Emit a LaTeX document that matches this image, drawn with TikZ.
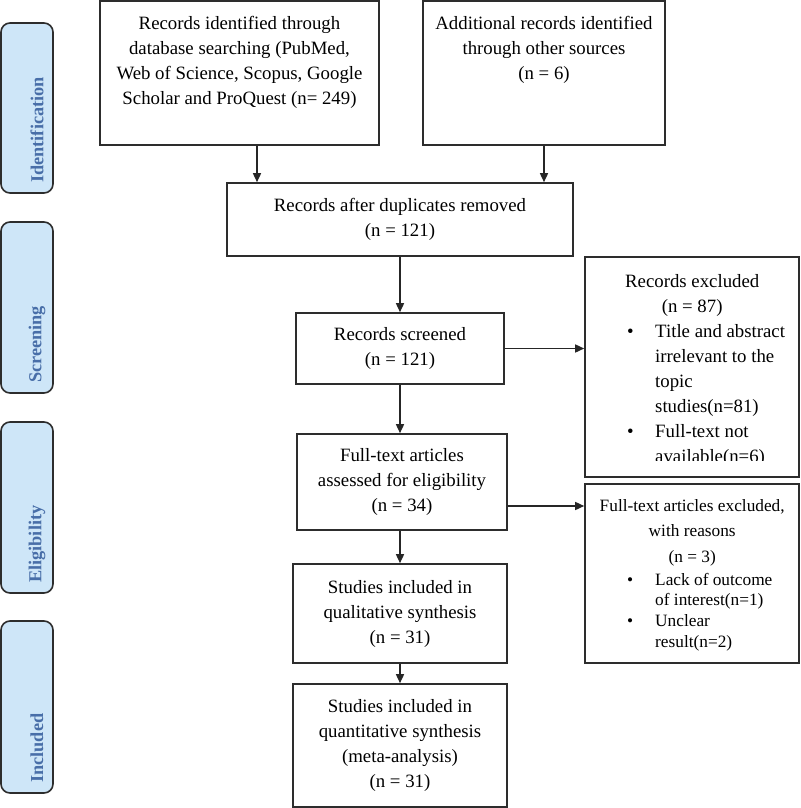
\documentclass[tikz,border=0pt]{standalone}
\usepackage{fontspec}
\setmainfont{Liberation Serif}
\usetikzlibrary{arrows.meta}
\definecolor{phasefill}{RGB}{206,230,248}
\definecolor{phasetext}{RGB}{72,110,168}
\definecolor{linegray}{RGB}{45,45,45}
\tikzset{
  mainbox/.style={draw=linegray, line width=1.6pt, inner sep=0pt, align=center,
    font=\fontsize{18.8}{25}\selectfont},
  plainbox/.style={draw=linegray, line width=1.6pt, inner sep=0pt},
  boxtext/.style={inner sep=0pt, anchor=base west},
  phasebox/.style={draw=linegray, line width=1.6pt, rounded corners=9pt, fill=phasefill,
    minimum width=52pt, inner sep=0pt},
  phaselabel/.style={rotate=90, anchor=west, inner sep=0pt, text=phasetext,
    font=\fontsize{18.3}{22}\selectfont\bfseries},
  arr/.style={draw=black!85, line width=1.5pt, -{Triangle[length=9pt,width=8pt]}},
}
\begin{document}
\begin{tikzpicture}[x=1pt,y=-1pt]
\useasboundingbox (0,0) rectangle (800,808);

% phase labels
\node[phasebox, minimum height=170pt] (ph1) at (27,108) {};
\node[phaselabel] (ph1t) at (37,183) {Identification};
\node[phasebox, minimum height=171pt] (ph2) at (27,307.5) {};
\node[phaselabel] (ph2t) at (37,383) {Screening};
\node[phasebox, minimum height=171pt] (ph3) at (27,507.5) {};
\node[phaselabel] (ph3t) at (37,583) {Eligibility};
\node[phasebox, minimum height=172pt] (ph4) at (27,707) {};
\node[phaselabel] (ph4t) at (37,783) {Included};

% main boxes
\node[mainbox, minimum width=279pt, minimum height=144pt] (id1) at (239.5,73)
  {\parbox[c][144pt][t]{279pt}{\centering\vspace*{15.7pt}Records identified through\\
   database searching (PubMed,\\ Web of Science, Scopus, Google\\
   Scholar and ProQuest (n= 249)}};
\node[mainbox, minimum width=242pt, minimum height=144pt] (id2) at (544,73)
  {\parbox[c][144pt][t]{242pt}{\centering\vspace*{15.7pt}Additional records identified\\
   through other sources\\ (n = 6)}};
\node[mainbox, minimum width=346pt, minimum height=73pt] (dup) at (400,219.5)
  {Records after duplicates removed\\ (n = 121)};
\node[mainbox, minimum width=208pt, minimum height=71pt] (scr) at (400,348.5)
  {Records screened\\ (n = 121)};
\node[mainbox, minimum width=210pt, minimum height=96pt] (ft) at (402,482)
  {Full-text articles\\ assessed for eligibility\\ (n = 34)};
\node[mainbox, minimum width=214pt, minimum height=99pt] (qual) at (400,613.5)
  {Studies included in\\ qualitative synthesis\\ (n = 31)};
\node[mainbox, minimum width=214pt, minimum height=123pt] (quant) at (400,745.5)
  {Studies included in\\ quantitative synthesis\\ (meta-analysis)\\ (n = 31)};

% exclusion boxes
\node[plainbox, minimum width=214pt, minimum height=220pt] (excl1) at (692,367) {};
\begin{scope}
  \clip (585,257) rectangle (799,460);
  \node[boxtext, font=\fontsize{18.8}{25}\selectfont] (excl1t) at (585,287)
   {\parbox[t]{214pt}{\centering Records excluded\\ (n = 87)\par
    \raggedright
    \hspace*{42pt}\makebox[28pt][l]{\textbullet}Title and abstract\\
    \hspace*{70pt}irrelevant to the\\
    \hspace*{70pt}topic\\
    \hspace*{70pt}studies(n=81)\\
    \hspace*{42pt}\makebox[28pt][l]{\textbullet}Full-text not\\
    \hspace*{70pt}available(n=6)}};
\end{scope}

\node[plainbox, minimum width=214pt, minimum height=179pt] (excl2) at (692,573.5) {};
\node[boxtext, font=\fontsize{17.3}{25.5}\selectfont] (excl2t) at (585,511)
  {\parbox[t]{214pt}{\centering Full-text articles excluded,\\ with reasons\\ (n = 3)\par
   \fontsize{17.3}{20.7}\selectfont\raggedright\vspace{2.5pt}
   \hspace*{42pt}\makebox[28pt][l]{\textbullet}Lack of outcome\\
   \hspace*{70pt}of interest(n=1)\\
   \hspace*{42pt}\makebox[28pt][l]{\textbullet}Unclear\\
   \hspace*{70pt}result(n=2)}};

% connectors
\coordinate (c1) at (257,0);
\coordinate (c2) at (0,506);
\draw[arr] (c1 |- id1.south) -- (c1 |- dup.north);
\draw[arr] (id2.south) -- (id2.south |- dup.north);
\draw[arr] (dup.south) -- (scr.north);
\draw[arr] (scr.east) -- (scr.east -| excl1.west);
\draw[arr] (scr.south) -- (scr.south |- ft.north);
\draw[arr] (c2 -| ft.east) -- (c2 -| excl2.west);
\draw[arr] (qual.north |- ft.south) -- (qual.north);
\draw[arr] (qual.south) -- (quant.north);
\end{tikzpicture}
\end{document}
